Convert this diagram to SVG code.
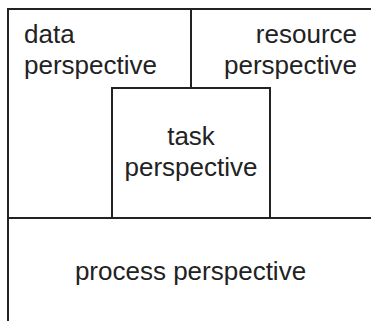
<svg xmlns="http://www.w3.org/2000/svg" width="371" height="321" viewBox="0 0 371 321">
<style>
.ln{fill:none;stroke:#222;stroke-width:2}
.t{font-family:"Liberation Sans",Arial,sans-serif;font-size:26px;fill:#222}
</style>
<rect width="371" height="321" fill="#fff"/>
<g id="data">
<path class="ln" d="M8,330 V9 H191"/>
<text class="t" x="24" y="43">data</text>
<text class="t" x="24" y="74">perspective</text>
</g>
<g id="resource">
<path class="ln" d="M191,9 H380 M191,9 V88"/>
<text class="t" x="357" y="43" text-anchor="end">resource</text>
<text class="t" x="357" y="74" text-anchor="end">perspective</text>
</g>
<g id="task">
<rect class="ln" x="112" y="88" width="158" height="130"/>
<text class="t" x="191" y="145" text-anchor="middle">task</text>
<text class="t" x="191" y="176" text-anchor="middle">perspective</text>
</g>
<g id="process">
<path class="ln" d="M8,218 H380"/>
<text class="t" x="190.5" y="280" text-anchor="middle">process perspective</text>
</g>
<g id="connectors"></g>
</svg>
